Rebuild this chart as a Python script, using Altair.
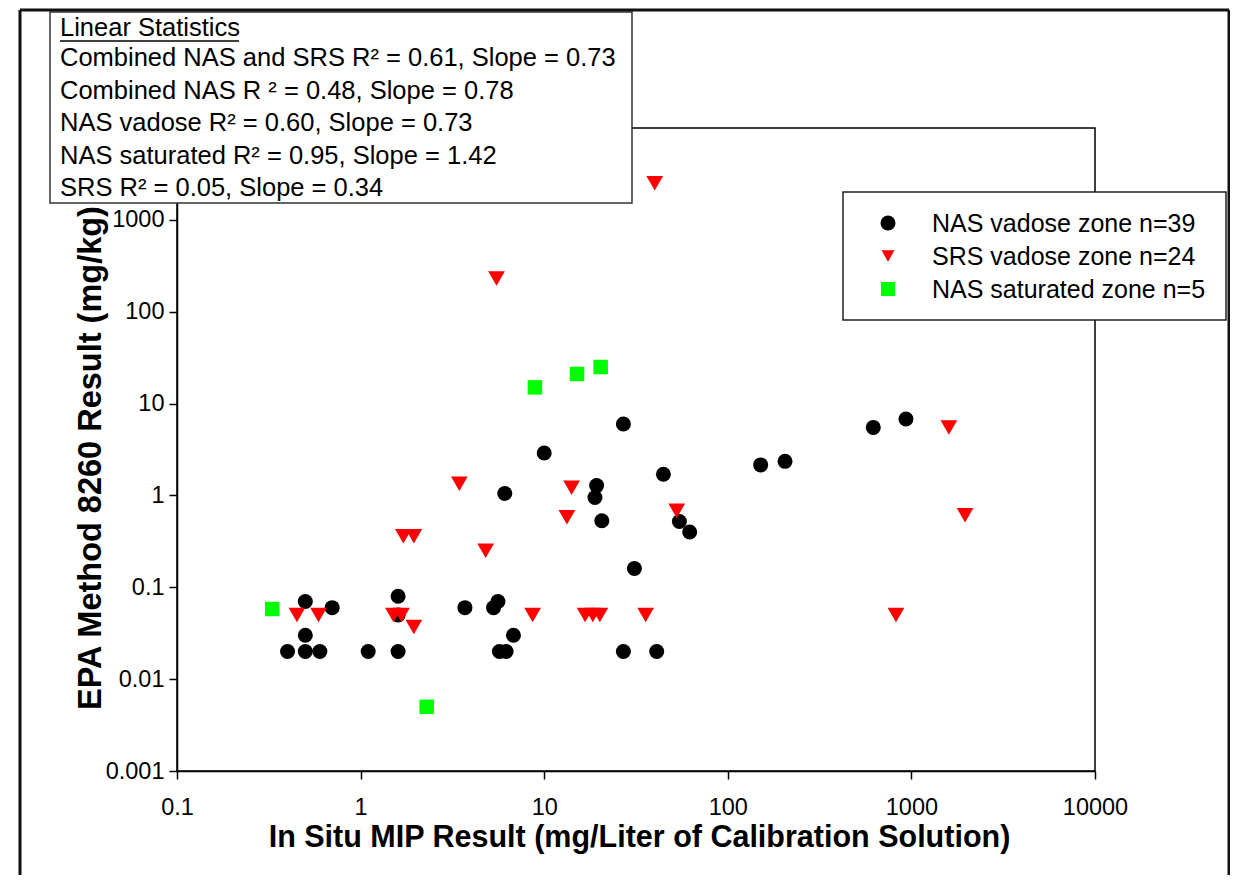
import altair as alt
import pandas as pd

# ---------------- data ----------------
categories = ["NAS vadose zone n=39", "SRS vadose zone n=24", "NAS saturated zone n=5"]
colors = ["#000000", "#ff0000", "#00ff00"]
shapes = ["circle", "triangle-down", "square"]

nas_vadose_x = [0.4, 0.5, 0.6, 0.5, 0.5, 0.7, 1.1, 1.6, 1.6, 1.6, 3.7, 5.3, 5.6, 5.7, 6.2,
                6.8, 27, 41, 31, 6.1, 10, 19.3, 18.9, 20.6, 27, 44.6, 54.5, 62, 151, 205, 620, 934]
nas_vadose_y = [0.02, 0.02, 0.02, 0.03, 0.07, 0.06, 0.02, 0.02, 0.08, 0.05, 0.06, 0.06, 0.07, 0.02, 0.02,
                0.03, 0.02, 0.02, 0.16, 1.05, 2.9, 1.28, 0.95, 0.53, 6.0, 1.7, 0.52, 0.4, 2.15, 2.35, 5.5, 6.8]

srs_x = [0.45, 0.59, 1.51, 1.67, 1.95, 1.71, 1.95, 3.45, 4.8, 5.5, 8.65, 13.3, 14.1,
         16.7, 18.4, 20.1, 35.7, 40, 52.7, 824, 1600, 1960]
srs_y = [0.05, 0.05, 0.05, 0.05, 0.037, 0.36, 0.36, 1.34, 0.25, 230, 0.05, 0.58, 1.21,
         0.05, 0.05, 0.05, 0.05, 2500, 0.68, 0.05, 5.5, 0.61]

nas_sat_x = [0.33, 2.29, 8.9, 15.1, 20.3]
nas_sat_y = [0.058, 0.005, 15, 21, 25]

x_ticks = [0.1, 1, 10, 100, 1000, 10000]
y_ticks = [0.001, 0.01, 0.1, 1, 10, 100, 1000]

stats_title = "Linear Statistics"
stats_lines = [
    "Combined NAS and SRS R² = 0.61, Slope = 0.73",
    "Combined NAS R ² = 0.48, Slope = 0.78",
    "NAS vadose R² = 0.60, Slope = 0.73",
    "NAS saturated R² = 0.95, Slope = 1.42",
    "SRS R² = 0.05, Slope = 0.34",
]

x_title = "In Situ MIP Result (mg/Liter of Calibration Solution)"
y_title = "EPA Method 8260 Result (mg/kg)"

# ---------------- chart ----------------
W, H = 918, 643
FONT = "Liberation Sans"

x_enc = alt.X(
    "x:Q",
    scale=alt.Scale(type="log", domain=[0.1, 10000], nice=False),
    axis=alt.Axis(
        values=x_ticks, labelExpr="toString(datum.value)", title=x_title,
        grid=False, labelFlush=False, labelOverlap=False,
        tickSize=8, tickColor="black", tickWidth=1.5,
        domainColor="black", domainWidth=1.5,
        labelFontSize=23.5, labelColor="black", labelPadding=16, labelFont=FONT,
        titleFontSize=30.5, titleFontWeight="bold", titleFont=FONT, titleColor="black",
        titleX=W / 2 + 3, titleY=75, titleBaseline="alphabetic", titleAlign="center",
    ),
)
y_enc = alt.Y(
    "y:Q",
    scale=alt.Scale(type="log", domain=[0.001, 10000], nice=False),
    axis=alt.Axis(
        values=y_ticks, labelExpr="toString(datum.value)", title=y_title,
        grid=False, labelFlush=False, labelOverlap=False,
        tickSize=8, tickColor="black", tickWidth=1.5,
        domainColor="black", domainWidth=1.5,
        labelFontSize=23.5, labelColor="black", labelPadding=5, labelFont=FONT,
        titleFontSize=32.5, titleFontWeight="bold", titleFont=FONT, titleColor="black",
        titleX=-77, titleY=H / 2 + 8, titleAngle=-90, titleBaseline="alphabetic", titleAlign="center",
    ),
)

series = [
    (nas_vadose_x, nas_vadose_y, 225),
    (srs_x, srs_y, 280),
    (nas_sat_x, nas_sat_y, 210),
]

layers = []
for i, (xs, ys, sz) in enumerate(series):
    d = pd.DataFrame({"x": xs, "y": ys, "group": categories[i]})
    layers.append(
        alt.Chart(d).mark_point(
            filled=True, opacity=1, strokeWidth=0, shape=shapes[i], color=colors[i], size=sz
        ).encode(x=x_enc, y=y_enc)
    )

one = pd.DataFrame({"d": [0]})

# statistics box
layers.append(
    alt.Chart(one).mark_rect(fill="white", stroke="#333333", strokeWidth=1.5).encode(
        x=alt.value(-127), x2=alt.value(455), y=alt.value(-116), y2=alt.value(75)
    )
)
stat_base = [-92, -62, -29, 3, 36, 68]
layers.append(
    alt.Chart(one).mark_text(align="left", baseline="alphabetic", fontSize=25.5, font=FONT, color="black").encode(
        x=alt.value(-117), y=alt.value(stat_base[0]), text=alt.value(stats_title)
    )
)
layers.append(
    alt.Chart(one).mark_rule(color="black", strokeWidth=1.5).encode(
        x=alt.value(-117), x2=alt.value(62), y=alt.value(-87)
    )
)
for j, line in enumerate(stats_lines):
    layers.append(
        alt.Chart(one).mark_text(align="left", baseline="alphabetic", fontSize=25.5, font=FONT, color="black").encode(
            x=alt.value(-117), y=alt.value(stat_base[j + 1]), text=alt.value(line)
        )
    )

# legend box
layers.append(
    alt.Chart(one).mark_rect(fill="white", stroke="#222222", strokeWidth=1.5).encode(
        x=alt.value(666), x2=alt.value(1049), y=alt.value(64), y2=alt.value(192)
    )
)
leg_sizes = [225, 170, 200]
for i, lab in enumerate(categories):
    cy = 95 + 33 * i
    layers.append(
        alt.Chart(one).mark_point(filled=True, opacity=1, strokeWidth=0, shape=shapes[i],
                                  color=colors[i], size=leg_sizes[i]).encode(
            x=alt.value(711), y=alt.value(cy)
        )
    )
    layers.append(
        alt.Chart(one).mark_text(align="left", baseline="alphabetic", fontSize=25, font=FONT, color="black").encode(
            x=alt.value(755), y=alt.value(cy + 9), text=alt.value(lab)
        )
    )

# outer figure frame
for enc in [
    dict(x=alt.value(-157), x2=alt.value(1052), y=alt.value(-118)),
    dict(x=alt.value(-157), y=alt.value(-118), y2=alt.value(760)),
    dict(x=alt.value(1052), y=alt.value(-118), y2=alt.value(760)),
]:
    layers.append(alt.Chart(one).mark_rule(color="#111111", strokeWidth=3).encode(**enc))

chart = alt.layer(*layers).properties(
    width=W, height=H,
    autosize=alt.AutoSizeParams(type="none"),
    padding={"left": 169, "top": 120, "right": 135, "bottom": 104},
    background="white",
).configure(font=FONT).configure_view(stroke="black", strokeWidth=1.5)

chart.save("out.html", embed_options={"renderer": "svg", "actions": False})
